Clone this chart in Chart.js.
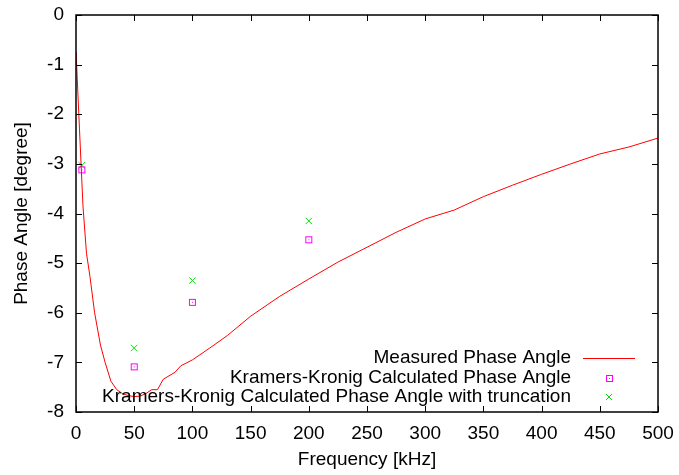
<!DOCTYPE html>
<html>
<head>
<meta charset="utf-8">
<script src="https://cdn.jsdelivr.net/npm/chart.js@4"></script>
<style>
  html, body { margin: 0; padding: 0; background: #fff; }
  #wrap { width: 679px; height: 475px; }
</style>
</head>
<body>
<div id="wrap"><canvas id="phaseChart" width="679" height="475"></canvas></div>
<script>
// measured phase angle (kHz, degree)
var measuredFreq = [0.1, 1, 3, 6, 9, 12, 16, 21, 25, 30, 35, 40, 45, 50, 55, 60, 65, 70, 75, 85, 90, 100,
    115, 130, 150, 175, 200, 225, 250, 275, 300, 325, 350, 375, 400, 425, 450, 475, 500];
var measuredPhase = [-0.74, -1.25, -2.3, -3.85, -4.8, -5.27, -6.0, -6.65, -7.0, -7.38, -7.55, -7.63, -7.67, -7.69,
    -7.68, -7.63, -7.55, -7.55, -7.34, -7.2, -7.07, -6.95, -6.71, -6.46, -6.07, -5.67, -5.32, -4.98, -4.68,
    -4.38, -4.11, -3.93, -3.66, -3.43, -3.21, -3.0, -2.8, -2.66, -2.48];

// Kramers-Kronig points
var kkFreq = [5, 50, 100, 200];
var kkPhase = [-3.12, -7.09, -5.79, -4.53];
var kkTruncPhase = [-3.03, -6.71, -5.35, -4.15];

var xTicks = [0, 50, 100, 150, 200, 250, 300, 350, 400, 450, 500];
var yTicks = [0, -1, -2, -3, -4, -5, -6, -7, -8];

var legendLabels = ['Measured Phase Angle', 'Kramers-Kronig Calculated Phase Angle',
    'Kramers-Kronig Calculated Phase Angle with truncation'];

function pairs(xs, ys) {
    return xs.map(function (x, i) { return {x: x, y: ys[i]}; });
}

// square with a dot in the middle, like gnuplot's box point
var boxPoint = document.createElement('canvas');
boxPoint.width = 9;
boxPoint.height = 9;
var bctx = boxPoint.getContext('2d');
bctx.strokeStyle = '#ff00ff';
bctx.lineWidth = 1;
bctx.strokeRect(1.5, 1.5, 6, 6);
bctx.fillStyle = '#ff00ff';
bctx.fillRect(4, 4, 1, 1);

var FONT = '"Liberation Sans", Arial, Helvetica, sans-serif';
var GREEN = '#00e000';

// frame with inward ticks on all four sides + legend inside the plot
var framePlugin = {
    id: 'frame',
    afterDraw: function (chart) {
        var ctx = chart.ctx;
        var a = chart.chartArea;
        var xs = chart.scales.x, ys = chart.scales.y;
        var tl = 6;
        ctx.save();
        ctx.strokeStyle = '#000';
        ctx.lineWidth = 1;
        ctx.beginPath();
        xTicks.forEach(function (v) {
            var px = Math.round(xs.getPixelForValue(v)) + 0.5;
            ctx.moveTo(px, a.bottom); ctx.lineTo(px, a.bottom - tl);
            ctx.moveTo(px, a.top); ctx.lineTo(px, a.top + tl);
        });
        yTicks.forEach(function (v) {
            var py = Math.round(ys.getPixelForValue(v)) + 0.5;
            ctx.moveTo(a.left, py); ctx.lineTo(a.left + tl, py);
            ctx.moveTo(a.right, py); ctx.lineTo(a.right - tl, py);
        });
        ctx.stroke();
        ctx.lineWidth = 1.5;
        ctx.strokeRect(a.left, a.top, a.right - a.left, a.bottom - a.top);

        // legend
        ctx.font = '19px ' + FONT;
        ctx.fillStyle = '#000';
        ctx.textAlign = 'right';
        ctx.textBaseline = 'middle';
        var rows = [358, 378, 397];
        var textRight = 571;
        legendLabels.forEach(function (t, i) {
            ctx.fillText(t, textRight, rows[i]);
        });
        ctx.strokeStyle = '#ff0000';
        ctx.lineWidth = 1;
        ctx.beginPath();
        ctx.moveTo(583, rows[0] + 0.5);
        ctx.lineTo(635, rows[0] + 0.5);
        ctx.stroke();
        ctx.drawImage(boxPoint, 605, rows[1] - 4);
        ctx.strokeStyle = GREEN;
        ctx.beginPath();
        ctx.moveTo(606, rows[2] - 3); ctx.lineTo(612, rows[2] + 3);
        ctx.moveTo(612, rows[2] - 3); ctx.lineTo(606, rows[2] + 3);
        ctx.stroke();
        ctx.restore();
    }
};

var ctx = document.getElementById('phaseChart').getContext('2d');
var chart = new Chart(ctx, {
    type: 'scatter',
    data: {
        datasets: [{
            label: legendLabels[0],
            data: pairs(measuredFreq, measuredPhase),
            showLine: true,
            borderColor: '#ff0000',
            borderWidth: 1,
            pointRadius: 0,
            tension: 0
        }, {
            label: legendLabels[1],
            data: pairs(kkFreq, kkPhase),
            pointStyle: boxPoint,
            pointRadius: 4,
            borderColor: '#ff00ff',
            backgroundColor: 'transparent'
        }, {
            label: legendLabels[2],
            data: pairs(kkFreq, kkTruncPhase),
            pointStyle: 'crossRot',
            pointRadius: 4.5,
            borderWidth: 1,
            borderColor: GREEN
        }]
    },
    options: {
        responsive: false,
        animation: false,
        layout: {padding: {top: 15, right: 21, left: 0, bottom: 0}},
        plugins: {
            legend: {display: false},
            tooltip: {enabled: false}
        },
        scales: {
            x: {
                type: 'linear',
                min: 0,
                max: 500,
                afterBuildTicks: function (s) { s.ticks = xTicks.map(function (v) { return {value: v}; }); },
                afterFit: function (s) { s.height = 63; s.paddingLeft = 0; s.paddingRight = 0; },
                grid: {display: false, drawTicks: false},
                border: {display: false},
                ticks: {padding: 10, color: '#000', font: {family: FONT, size: 19}, maxRotation: 0},
                title: {display: true, text: 'Frequency [kHz]', color: '#000',
                    font: {family: FONT, size: 19}, padding: {top: 0, bottom: 4}}
            },
            y: {
                type: 'linear',
                min: -8,
                max: 0,
                afterBuildTicks: function (s) { s.ticks = yTicks.map(function (v) { return {value: v}; }); },
                afterFit: function (s) { s.width = 76; s.paddingTop = 0; s.paddingBottom = 0; },
                grid: {display: false, drawTicks: false},
                border: {display: false},
                ticks: {padding: 12, color: '#000', font: {family: FONT, size: 19}},
                title: {display: true, text: 'Phase Angle [degree]', color: '#000',
                    font: {family: FONT, size: 19}, padding: {top: 10, bottom: 0}}
            }
        }
    },
    plugins: [framePlugin]
});
</script>
</body>
</html>
